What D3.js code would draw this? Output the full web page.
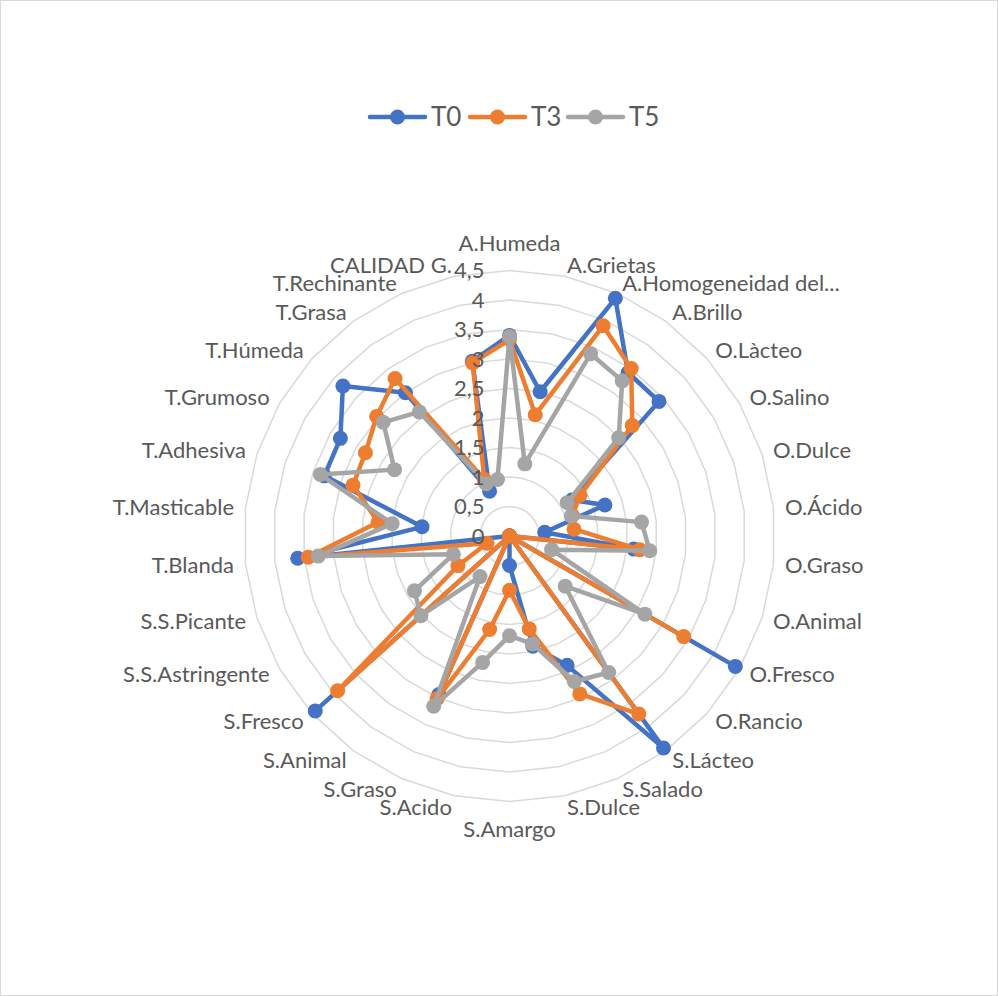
<!DOCTYPE html>
<html>
<head>
<meta charset="utf-8">
<script src="https://cdn.jsdelivr.net/npm/d3@7"></script>
<style>
  html, body { margin: 0; padding: 0; background: #fff; }
  svg { display: block; }
  text { font-family: Lato, "Open Sans", sans-serif; fill: #595959; }
</style>
</head>
<body>
<svg id="chart" width="998" height="996"></svg>
<script>
// Sensory attributes (clockwise from the top)
const categories = [
  "A.Humeda", "A.Grietas", "A.Homogeneidad del...", "A.Brillo", "O.Làcteo",
  "O.Salino", "O.Dulce", "O.Ácido", "O.Graso", "O.Animal",
  "O.Fresco", "O.Rancio", "S.Lácteo", "S.Salado", "S.Dulce",
  "S.Amargo", "S.Acido", "S.Graso", "S.Animal", "S.Fresco",
  "S.S.Astringente", "S.S.Picante", "T.Blanda", "T.Masticable", "T.Adhesiva",
  "T.Grumoso", "T.Húmeda", "T.Grasa", "T.Rechinante", "CALIDAD G."
];

// Mean panel scores per storage time
const t0 = [3.40, 2.50, 4.41, 3.42, 3.41, 1.22, 1.70, 0.60, 2.12, 0.00,
            4.42, 0.00, 4.44, 2.40, 1.91, 0.50, 0.00, 2.94, 0.00, 4.43,
            0.00, 0.00, 3.61, 1.49, 3.30, 3.31, 3.80, 3.00, 0.83, 3.03];
const t3 = [3.33, 2.10, 3.90, 3.51, 2.80, 1.38, 1.12, 1.10, 2.22, 0.00,
            3.41, 0.00, 3.73, 2.93, 1.61, 0.92, 1.62, 3.02, 0.00, 3.92,
            1.01, 0.40, 3.43, 2.24, 2.79, 2.82, 3.03, 3.30, 1.05, 3.00];
const t5 = [3.38, 1.25, 3.38, 3.25, 2.49, 1.13, 1.10, 2.25, 2.39, 0.75,
            2.65, 1.27, 2.86, 2.70, 1.87, 1.69, 2.19, 3.16, 0.85, 2.02,
            1.86, 1.00, 3.26, 2.00, 3.37, 2.25, 2.88, 2.60, 0.97, 0.98];

const seriesNames = ["T0", "T3", "T5"];
const seriesColors = ["#4472C4", "#ED7D31", "#A5A5A5"];
const tickValues = [0, 0.5, 1, 1.5, 2, 2.5, 3, 3.5, 4, 4.5];

const series = [t0, t3, t5].map((values, i) => ({
  name: seriesNames[i], color: seriesColors[i], values
}));

const svg = d3.select("#chart");

// Chart area outline
svg.append("rect")
  .attr("x", 0.5).attr("y", 0.5).attr("width", 997).attr("height", 995)
  .attr("fill", "#fff").attr("stroke", "#d9d9d9").attr("stroke-width", 1);

const cx = 509.5, cy = 536;
const r = d3.scaleLinear().domain([0, 4.5]).range([0, 265.5]);
const angle = d3.scaleLinear().domain([0, categories.length]).range([0, 2 * Math.PI]);
const fmt = v => String(v).replace(".", ",");

const g = svg.append("g").attr("transform", `translate(${cx},${cy})`);

// Polygonal gridlines at each tick
const gridLine = d3.lineRadial().curve(d3.curveLinearClosed);
g.append("g").selectAll("path")
  .data(tickValues.filter(v => v > 0))
  .join("path")
  .attr("d", v => gridLine(categories.map((c, i) => [angle(i), r(v)])))
  .attr("fill", "none")
  .attr("stroke", "#d9d9d9")
  .attr("stroke-width", 1.5);

// Series: line then markers, later series on top
const line = d3.lineRadial()
  .angle((d, i) => angle(i))
  .radius(d => r(d))
  .curve(d3.curveLinearClosed);

const sg = g.append("g").selectAll("g").data(series).join("g");
sg.append("path")
  .attr("d", s => line(s.values))
  .attr("fill", "none")
  .attr("stroke", s => s.color)
  .attr("stroke-width", 4.5)
  .attr("stroke-linejoin", "round");
sg.selectAll("circle")
  .data(s => s.values.map((v, i) => ({ v, i, color: s.color })))
  .join("circle")
  .attr("cx", d => r(d.v) * Math.sin(angle(d.i)))
  .attr("cy", d => -r(d.v) * Math.cos(angle(d.i)))
  .attr("r", 7.5)
  .attr("fill", d => d.color);

// Value axis labels along the top spoke
g.append("g").selectAll("text")
  .data(tickValues)
  .join("text")
  .attr("x", -25)
  .attr("y", v => -r(v))
  .attr("dy", "0.35em")
  .attr("text-anchor", "end")
  .style("font-size", "22px")
  .text(fmt);

// Category labels round the outside
g.append("g").selectAll("text")
  .data(categories)
  .join("text")
  .each(function (c, i) {
    const a = angle(i);
    const s = Math.sin(a), k = Math.cos(a);
    const el = d3.select(this).style("font-size", "22px").text(c);
    if (Math.abs(s) < 1e-6) {
      const rr = 293;
      el.attr("x", 0).attr("y", -rr * k).attr("dy", "0.35em").attr("text-anchor", "middle");
    } else {
      const rr = 277;
      el.attr("x", rr * s).attr("y", -rr * k).attr("dy", "0.35em")
        .attr("text-anchor", s > 0 ? "start" : "end");
    }
  });

// Legend
const legendX = [370, 470, 568];
const lg = svg.append("g").selectAll("g").data(series).join("g")
  .attr("transform", (s, i) => `translate(${legendX[i]},117)`);
lg.append("line")
  .attr("x1", 0).attr("x2", 55).attr("y1", 0).attr("y2", 0)
  .attr("stroke", s => s.color).attr("stroke-width", 4.5).attr("stroke-linecap", "round");
lg.append("circle").attr("cx", 27.5).attr("cy", 0).attr("r", 7.5).attr("fill", s => s.color);
lg.append("text")
  .attr("x", 61).attr("y", 0).attr("dy", "0.35em")
  .style("font-size", "26px")
  .text(s => s.name);
</script>
</body>
</html>
